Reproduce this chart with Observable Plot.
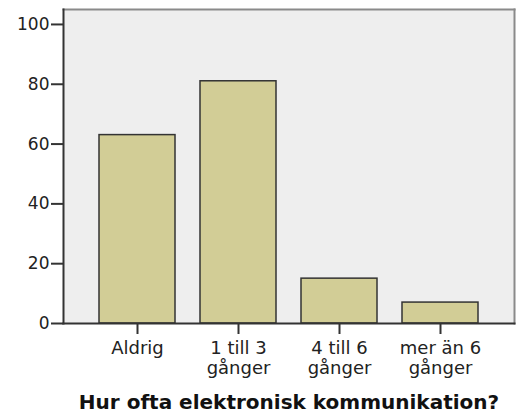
<!DOCTYPE html>
<html><head><meta charset="utf-8">
<script src="https://cdn.jsdelivr.net/npm/d3@7"></script>
<script src="https://cdn.jsdelivr.net/npm/@observablehq/plot@0.6"></script>
<style>body{margin:0;background:#fff}</style>
</head><body><div id="chart"></div>
<script>
const categories = ["Aldrig", "1 till 3\ngånger", "4 till 6\ngånger", "mer än 6\ngånger"];
const counts = [63, 81, 15, 7];
const yTicks = [0, 20, 40, 60, 80, 100];
const xTitle = "Hur ofta elektronisk kommunikation?";
const data = categories.map((c, i) => ({category: c, count: counts[i]}));

const chart = Plot.plot({
  width: 516, height: 417,
  marginLeft: 63, marginRight: 2, marginTop: 9, marginBottom: 94,
  style: {fontFamily: "DejaVu Sans", fontSize: "17px", color: "#222", background: "#fff"},
  x: {domain: categories, paddingInner: 0.25, paddingOuter: 0.34, label: null},
  y: {domain: [0, 105], label: null},
  marks: [
    Plot.frame({fill: "#eeeeee", stroke: null}),
    Plot.frame({anchor: "top", stroke: "#8a8a8a", strokeWidth: 2}),
    Plot.frame({anchor: "right", stroke: "#8a8a8a", strokeWidth: 2}),
    Plot.barY(data, {x: "category", y: "count", fill: "#d2cd96", stroke: "#333", strokeWidth: 1.5}),
    Plot.frame({anchor: "left", stroke: "#333", strokeWidth: 2}),
    Plot.frame({anchor: "bottom", stroke: "#333", strokeWidth: 2}),
    Plot.axisY({ticks: yTicks, tickSize: 12, tickPadding: 2, stroke: "#333", strokeWidth: 2, fontSize: 17, fill: "#222", label: null}),
    Plot.axisX({tickSize: 11, tickPadding: 6, stroke: "#333", strokeWidth: 2, fontSize: 18, lineHeight: 1.08, fill: "#222", label: null}),
    Plot.text([xTitle], {frameAnchor: "bottom", dy: 79, fontSize: 20, fontWeight: "bold", fill: "#111", lineAnchor: "middle"})
  ]
});
document.getElementById("chart").appendChild(chart);
</script>
</body></html>
